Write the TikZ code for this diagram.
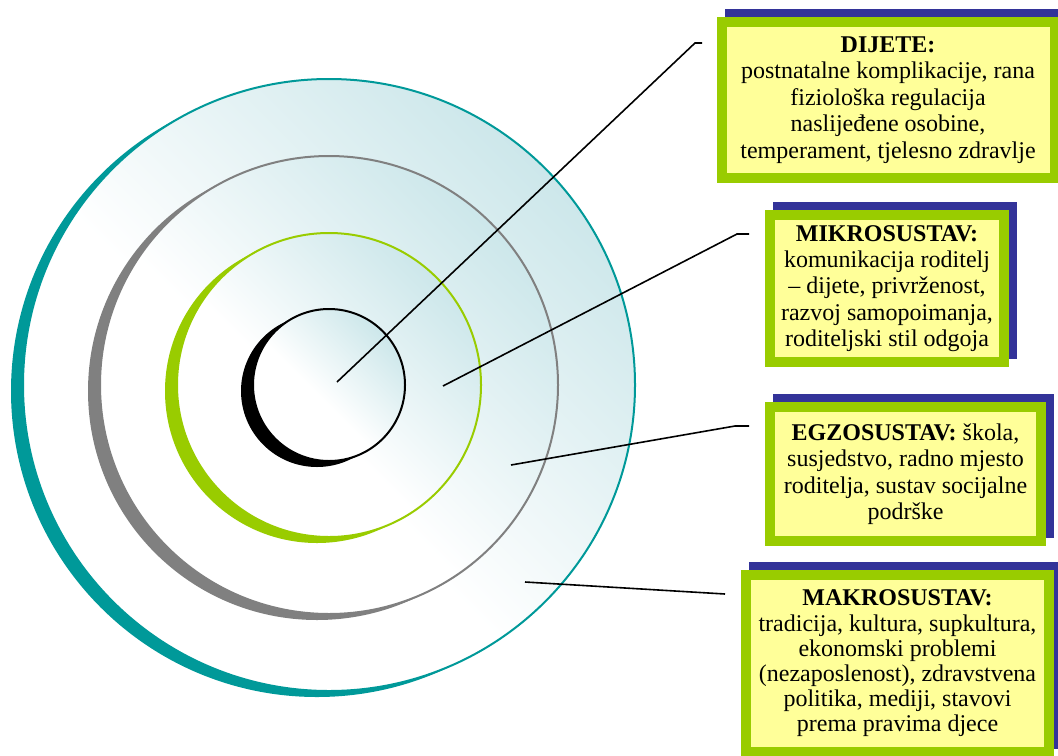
\documentclass[tikz,border=0pt]{standalone}
\usepackage{fontspec}
\setmainfont{Liberation Serif}
\usetikzlibrary{positioning,shadows}
\definecolor{ringteal}{RGB}{0,153,153}
\definecolor{ringgray}{RGB}{128,128,128}
\definecolor{ringgreen}{RGB}{153,204,0}
\definecolor{ringshade}{RGB}{196,227,231}
\definecolor{boxgreen}{RGB}{153,204,0}
\definecolor{boxyellow}{RGB}{255,255,153}
\definecolor{boxnavy}{RGB}{51,51,153}
\pgfdeclarehorizontalshading{ringfade}{100bp}{color(0bp)=(white); color(45bp)=(white);
  color(80bp)=(ringshade); color(100bp)=(ringshade)}
\tikzset{
  every node/.style={
    align=center,
    draw=none,
  },
  ring/.style={
    line width=1pt,
    shade, shading=ringfade, shading angle=45,
  },
  infobox/.style={
    draw=boxgreen, line width=5pt, fill=boxyellow, inner sep=0pt,
    font=\fontsize{12}{13.2}\selectfont,
    drop shadow={shadow xshift=4pt, shadow yshift=4pt,
      fill=boxnavy, draw=boxnavy, opacity=1},
  },
  leader/.style={line width=0.8pt, black},
}

\begin{document}
\begin{tikzpicture}[x=0.5pt,y=-0.5pt]
  \useasboundingbox (0,0) rectangle (1058,755);
  \fill[ringteal] (317,391) circle (306) ;
  \draw[ring, draw=ringteal] (329,385) circle (306) ;
  \fill[ringgray] (317,391) circle (229) ;
  \draw[ring, draw=ringgray] (329,385) circle (229) ;
  \fill[ringgreen] (317,391) circle (152) ;
  \draw[ring, draw=ringgreen] (329,385) circle (152) ;
  \fill[black] (317,391) circle (76) ;
  \draw[ring, draw=black] (329,385) circle (76) ;

  \node[infobox, minimum width=166.5pt, minimum height=78pt] (dijete) at (888,100)
    {\textbf{DIJETE:}\\ postnatalne komplikacije, rana\\ fiziološka regulacija\\
     naslijeđene osobine,\\ temperament, tjelesno zdravlje} ;
  \node[infobox, minimum width=117pt, minimum height=73.5pt] (mikro) at (887,288.5)
    {\textbf{MIKROSUSTAV:}\\ komunikacija roditelj\\ – dijete, privrženost,\\
     razvoj samopoimanja,\\ roditeljski stil odgoja} ;
  \node[infobox, minimum width=135.5pt, minimum height=67pt] (egzo) at (905.5,474)
    {\textbf{EGZOSUSTAV:} škola,\\ susjedstvo, radno mjesto\\
     roditelja, sustav socijalne\\ podrške} ;
  \node[infobox, minimum width=151.5pt, minimum height=88.5pt,
    font=\fontsize{12}{12.6}\selectfont] (makro) at (897.5,663.5)
    {\textbf{MAKROSUSTAV:}\\ tradicija, kultura, supkultura,\\ ekonomski problemi\\
     (nezaposlenost), zdravstvena\\ politika, mediji, stavovi\\ prema pravima djece} ;

  \coordinate (dijeteA) at (337,382) ;
  \coordinate (dijeteB) at (695,43) ;
  \coordinate (dijeteC) at (702,43) ;
  \coordinate (mikroA) at (443,386) ;
  \coordinate (mikroB) at (737,234) ;
  \coordinate (mikroC) at (749,234) ;
  \coordinate (egzoA) at (511,465) ;
  \coordinate (egzoB) at (735,426) ;
  \coordinate (egzoC) at (749,426) ;
  \coordinate (makroA) at (525,582) ;
  \coordinate (makroB) at (725,594) ;
  \draw[leader] (dijeteA) -- (dijeteB) -- (dijeteC) ;
  \draw[leader] (mikroA) -- (mikroB) -- (mikroC) ;
  \draw[leader] (egzoA) -- (egzoB) -- (egzoC) ;
  \draw[leader] (makroA) -- (makroB) ;
\end{tikzpicture}
\end{document}
